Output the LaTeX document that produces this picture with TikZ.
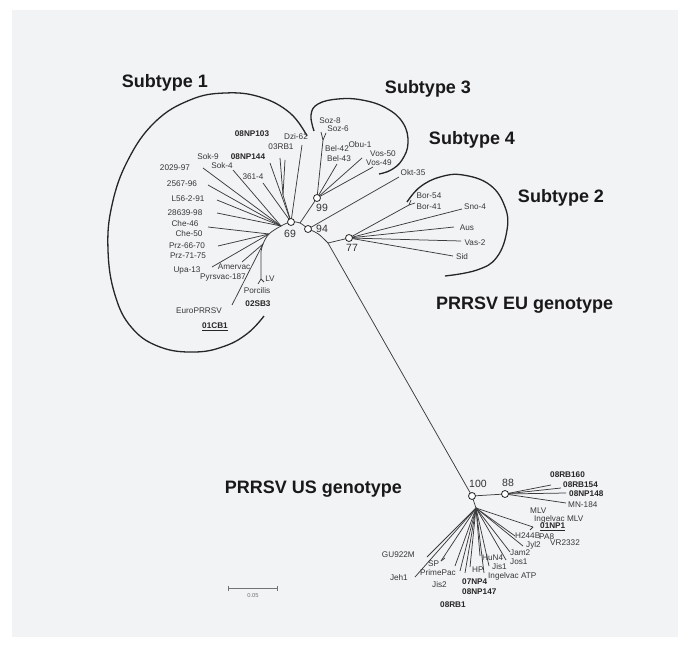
\documentclass[tikz,border=0pt]{standalone}
\usepackage{fontspec}
\setmainfont{Liberation Sans}
\definecolor{panelgray}{RGB}{242,243,245}
\definecolor{labgray}{RGB}{55,55,55}
\definecolor{brgray}{RGB}{60,60,60}
\begin{document}
\begin{tikzpicture}[x=1pt,y=-1pt,
  leaf/.style={font=\fontsize{8.2}{9}\selectfont, text=labgray, inner sep=0pt},
  bleaf/.style={font=\fontsize{8.2}{9}\selectfont\bfseries, text=black!85, inner sep=0pt},
  branch/.style={draw=brgray, line width=0.75pt},
  loopline/.style={draw=black!85, line width=1.3pt},
  boot/.style={circle, draw=black!85, fill=white, line width=0.8pt, minimum size=7pt, inner sep=0pt},
  bootlab/.style={font=\fontsize{10.5}{12}\selectfont, text=black!80, inner sep=0pt},
  grouptitle/.style={font=\fontsize{18}{20}\selectfont\bfseries, text=black!90, inner sep=0pt}]
\fill[white] (0,0) rectangle (690,647);
\fill[panelgray] (12,10) rectangle (678,637);
\useasboundingbox (0,0) rectangle (690,647);

% internal coordinates
\coordinate (n69) at (291,222);
\coordinate (n94) at (308,229);
\coordinate (n99) at (317,198);
\coordinate (n77) at (349,238);
\coordinate (n100) at (472,496);
\coordinate (n88) at (505,494);
\coordinate (j1) at (300,223);
\coordinate (bend) at (328,243);
\coordinate (a1) at (281,226);
\coordinate (a2) at (269,234);
\coordinate (a3) at (263,244);
\coordinate (a4) at (261,252);
\coordinate (fr) at (476,508);

% group loops
\draw[loopline] plot[smooth, tension=0.7] coordinates {(307,136) (290,113) (260,97) (225,93) (190,100) (155,122) (128,160) (112,205) (108,250) (115,295) (132,328) (160,347) (195,352) (225,346) (248,333) (264,316)};
\draw[loopline] plot[smooth, tension=0.7] coordinates {(314,131) (311,115) (318,104) (338,99) (362,100) (386,108) (403,123) (408,143) (402,160) (391,170) (379,174)};
\draw[loopline] plot[smooth, tension=0.7] coordinates {(407,202) (420,187) (440,177) (463,175) (490,185) (505,207) (507,230) (497,257) (477,270) (445,276)};

% backbone
\draw[branch] plot[smooth, tension=0.6] coordinates {(a4) (a3) (a2) (a1) (n69) (j1) (n94)};
\draw[branch] (n94) .. controls (318,233) .. (bend);
\draw[branch] (bend) -- (n77);
\draw[branch] (bend) -- (n100);
\draw[branch] (j1) -- (n99);
\draw[branch] (n100) -- (n88);
\draw[branch] (n100) -- (fr);

% subtype 1 tips
\coordinate (tDzi) at (302,145);
\coordinate (j03) at (283,195);
\coordinate (t03a) at (280,158);
\coordinate (t03b) at (285,160);
\coordinate (tNP144) at (270,163);
\coordinate (t3614) at (263,183);
\coordinate (tSok4) at (233,170);
\coordinate (t2029) at (203,168);
\coordinate (t2567) at (208,185);
\coordinate (tL56) at (217,200);
\coordinate (t28639) at (217,213);
\coordinate (tChe) at (208,227);
\coordinate (tPrz) at (218,246);
\coordinate (tUpa) at (212,267);
\coordinate (tAmer) at (242,262);
\coordinate (jLV) at (261,279);
\coordinate (tLVa) at (258,284);
\coordinate (tLVb) at (264,282);
\coordinate (tEuro) at (232,305);
\draw[branch] (n69) -- (tDzi);
\draw[branch] (n69) -- (j03) -- (t03a);
\draw[branch] (j03) -- (t03b);
\draw[branch] (n69) -- (tNP144);
\draw[branch] (n69) -- (t3614);
\draw[branch] (a1) -- (tSok4);
\draw[branch] (a1) -- (t2029);
\draw[branch] (a1) -- (t2567);
\draw[branch] (a1) -- (tL56);
\draw[branch] (a1) -- (t28639);
\draw[branch] (a2) -- (tChe);
\draw[branch] (a2) -- (tPrz);
\draw[branch] (a2) -- (tUpa);
\draw[branch] (a3) -- (tAmer);
\draw[branch] (a3) -- (tEuro);
\draw[branch] (a4) -- (jLV) -- (tLVa);
\draw[branch] (jLV) -- (tLVb);

% subtype 3/4 tips
\coordinate (jSoz) at (323,140);
\coordinate (tSoza) at (321,132);
\coordinate (tSozb) at (326,133);
\coordinate (tBel) at (337,164);
\coordinate (tObu) at (362,158);
\coordinate (tVos) at (373,167);
\coordinate (tOkt) at (399,177);
\draw[branch] (n99) -- (jSoz) -- (tSoza);
\draw[branch] (jSoz) -- (tSozb);
\draw[branch] (n99) -- (tBel);
\draw[branch] (n99) -- (tObu);
\draw[branch] (n99) -- (tVos);
\draw[branch] (n94) -- (tOkt);

% subtype 2 tips
\coordinate (jBor) at (409,205);
\coordinate (tBora) at (411,200);
\coordinate (tBorb) at (415,203);
\coordinate (tSno) at (462,209);
\coordinate (tAus) at (454,227);
\coordinate (tVas) at (461,241);
\coordinate (tSid) at (453,256);
\draw[branch] (n77) -- (jBor) -- (tBora);
\draw[branch] (jBor) -- (tBorb);
\draw[branch] (n77) -- (tSno);
\draw[branch] (n77) -- (tAus);
\draw[branch] (n77) -- (tVas);
\draw[branch] (n77) -- (tSid);

% US tips from 88
\coordinate (u1) at (551,485);
\coordinate (u2) at (561,488);
\coordinate (u3) at (566,493);
\coordinate (u4) at (566,503);
\draw[branch] (n88) -- (u1);
\draw[branch] (n88) -- (u2);
\draw[branch] (n88) -- (u3);
\draw[branch] (n88) -- (u4);

% US fan
\coordinate (vNP1) at (533,527);
\coordinate (vNP1b) at (530,530);
\coordinate (vH244) at (515,536);
\coordinate (vJyl) at (523,546);
\coordinate (vJam) at (510,552);
\coordinate (vJos) at (506,560);
\coordinate (vJis1) at (489,566);
\coordinate (vATP) at (484,573);
\coordinate (vHuN) at (480,556);
\coordinate (vHP) at (470,567);
\coordinate (v07) at (465,573);
\coordinate (vJis2) at (460,571);
\coordinate (vPrime) at (455,566);
\coordinate (vSP) at (441,561);
\coordinate (vSPb) at (445,558);
\coordinate (vGU) at (427,557);
\coordinate (vJeh) at (415,577);
\draw[branch] (fr) -- (vNP1);
\draw[branch] (vNP1) -- (vNP1b);
\draw[branch] (fr) -- (vH244);
\draw[branch] (fr) -- (vJyl);
\draw[branch] (fr) -- (vJam);
\draw[branch] (fr) -- (vJos);
\draw[branch] (fr) -- (vJis1);
\draw[branch] (fr) -- (vATP);
\draw[branch] (fr) -- (vHuN);
\draw[branch] (fr) -- (vHP);
\draw[branch] (fr) -- (v07);
\draw[branch] (fr) -- (vJis2);
\draw[branch] (fr) -- (vPrime);
\draw[branch] (fr) -- (vSP);
\draw[branch] (vSP) -- (vSPb);
\draw[branch] (fr) -- (vGU);
\draw[branch] (fr) -- (vJeh);

% bootstrap circles and values
\node[boot] (c69) at (n69) {};
\node[boot] (c94) at (n94) {};
\node[boot] (c99) at (n99) {};
\node[boot] (c77) at (n77) {};
\node[boot] (c100) at (n100) {};
\node[boot] (c88) at (n88) {};
\node[bootlab] (b69) at (290,234) {69};
\node[bootlab] (b94) at (322,229) {94};
\node[bootlab] (b99) at (322,208) {99};
\node[bootlab] (b77) at (352,248) {77};
\node[bootlab] (b100) at (478,484) {100};
\node[bootlab] (b88) at (508,483) {88};

% subtype 1 labels
\node[bleaf] (l08NP103) at (252,134) {08NP103};
\node[leaf] (lDzi) at (296,137) {Dzi-62};
\node[leaf] (l03RB1) at (281,147) {03RB1};
\node[leaf] (lSok9) at (208,157) {Sok-9};
\node[bleaf] (l08NP144) at (248,157) {08NP144};
\node[leaf] (l2029) at (175,168) {2029-97};
\node[leaf] (lSok4) at (222,166) {Sok-4};
\node[leaf] (l3614) at (253,177) {361-4};
\node[leaf] (l2567) at (182,184) {2567-96};
\node[leaf] (lL56) at (188,199) {L56-2-91};
\node[leaf] (l28639) at (185,213) {28639-98};
\node[leaf] (lChe46) at (185,224) {Che-46};
\node[leaf] (lChe50) at (189,234) {Che-50};
\node[leaf] (lPrz66) at (187,246) {Prz-66-70};
\node[leaf] (lPrz71) at (188,256) {Prz-71-75};
\node[leaf] (lUpa) at (187,270) {Upa-13};
\node[leaf] (lAmer) at (234,267) {Amervac};
\node[leaf] (lPyr) at (223,277) {Pyrsvac-187};
\node[leaf] (lLV) at (270,279) {LV};
\node[leaf] (lPorc) at (257,291) {Porcilis};
\node[bleaf] (l02SB3) at (258,304) {02SB3};
\node[leaf] (lEuro) at (199,311) {EuroPRRSV};
\node[bleaf] (l01CB1) at (215,327) {\underline{01CB1}};

% subtype 3/4 labels
\node[leaf] (lSoz8) at (330,121) {Soz-8};
\node[leaf] (lSoz6) at (338,129) {Soz-6};
\node[leaf] (lBel42) at (337,149) {Bel-42};
\node[leaf] (lBel43) at (339,159) {Bel-43};
\node[leaf] (lObu) at (360,145) {Obu-1};
\node[leaf] (lVos50) at (383,154) {Vos-50};
\node[leaf] (lVos49) at (379,163) {Vos-49};
\node[leaf] (lOkt) at (413,173) {Okt-35};

% subtype 2 labels
\node[leaf] (lBor54) at (429,196) {Bor-54};
\node[leaf] (lBor41) at (429,207) {Bor-41};
\node[leaf] (lSno) at (475,207) {Sno-4};
\node[leaf] (lAus) at (467,228) {Aus};
\node[leaf] (lVas) at (475,243) {Vas-2};
\node[leaf] (lSid) at (462,257) {Sid};

% US labels
\node[bleaf, anchor=west] (l08RB160) at (550,475) {08RB160};
\node[bleaf, anchor=west] (l08RB154) at (563,485) {08RB154};
\node[bleaf, anchor=west] (l08NP148) at (569,494) {08NP148};
\node[leaf, anchor=west] (lMN) at (568,505) {MN-184};
\node[leaf, anchor=west] (lMLV) at (530,511) {MLV};
\node[leaf, anchor=west] (lIMLV) at (534,519) {Ingelvac MLV};
\node[bleaf, anchor=west] (l01NP1) at (540,527) {\underline{01NP1}};
\node[leaf, anchor=west] (lH244) at (515,536) {H244B};
\node[leaf, anchor=west] (lPA8) at (539,537) {PA8};
\node[leaf, anchor=west] (lJyl) at (526,545) {Jyl2};
\node[leaf, anchor=west] (lVR) at (550,543) {VR2332};
\node[leaf, anchor=west] (lJam) at (510,553) {Jam2};
\node[leaf, anchor=west] (lJos) at (510,562) {Jos1};
\node[leaf, anchor=west] (lJis1) at (492,567) {Jis1};
\node[leaf, anchor=west] (lATP) at (488,576) {Ingelvac ATP};
\node[leaf, anchor=west] (lHuN) at (482,558) {HuN4};
\node[leaf, anchor=west] (lHP) at (472,570) {HP};
\node[bleaf, anchor=west] (l07NP4) at (462,582) {07NP4};
\node[bleaf, anchor=west] (l08NP147) at (462,592) {08NP147};
\node[bleaf, anchor=west] (l08RB1) at (440,605) {08RB1};
\node[leaf, anchor=west] (lJis2) at (432,585) {Jis2};
\node[leaf, anchor=west] (lPrime) at (420,573) {PrimePac};
\node[leaf, anchor=west] (lSP) at (428,564) {SP};
\node[leaf, anchor=east] (lGU) at (415,555) {GU922M};
\node[leaf, anchor=east] (lJeh) at (408,578) {Jeh1};

% group titles
\node[grouptitle] (g1) at (165,83) {Subtype 1};
\node[grouptitle] (g3) at (428,89) {Subtype 3};
\node[grouptitle] (g4) at (472,140) {Subtype 4};
\node[grouptitle] (g2) at (561,198) {Subtype 2};
\node[grouptitle, anchor=west] (gEU) at (436,305) {PRRSV EU genotype};
\node[grouptitle, anchor=east] (gUS) at (402,489) {PRRSV US genotype};

% scale bar
\coordinate (sb1) at (228,588);
\coordinate (sb2) at (277,588);
\draw[black!55, line width=0.5pt] (sb1) -- (sb2);
\draw[black!55, line width=0.5pt] ([yshift=-2.5pt]sb1) -- ([yshift=2.5pt]sb1);
\draw[black!55, line width=0.5pt] ([yshift=-2.5pt]sb2) -- ([yshift=2.5pt]sb2);
\node[font=\fontsize{5.8}{7}\selectfont, text=black!55, inner sep=0pt] (sblab) at (253,595) {0.05};
\end{tikzpicture}
\end{document}
